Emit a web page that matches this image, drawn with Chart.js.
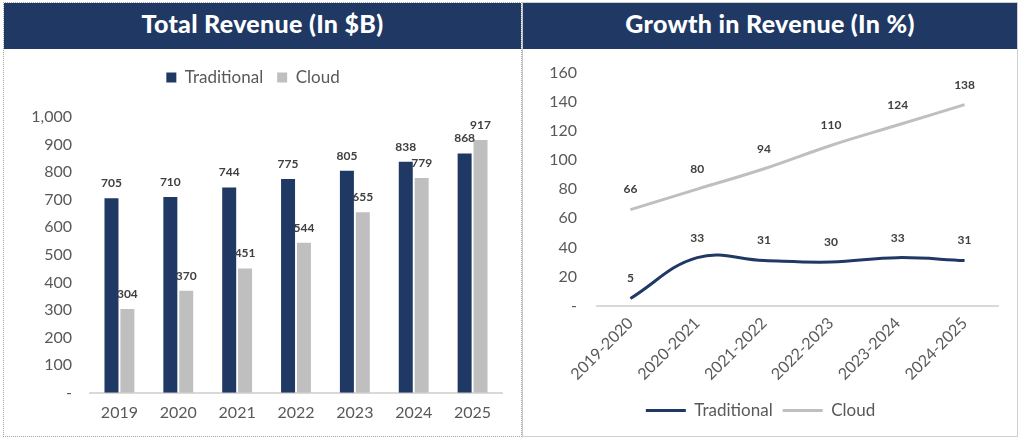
<!DOCTYPE html>
<html>
<head>
<meta charset="utf-8">
<script src="https://cdn.jsdelivr.net/npm/chart.js@4/dist/chart.umd.min.js"></script>
<style>
  html, body { margin: 0; padding: 0; background: #fff; }
  body { width: 1022px; height: 442px; position: relative; overflow: hidden; font-family: 'Lato', 'DejaVu Sans', sans-serif; }
  .panel { position: absolute; top: 2px; height: 435px; box-sizing: border-box; background: #fff; }
  #left { left: 3px; width: 519px; border: 1px dotted #a6a6a6; }
  #right { left: 522px; width: 496px; border: 1px solid #d0d0d0; border-left: 1px solid #c8c8c8; }
  .head { height: 46px; background: #1f3864; color: #fff; font-weight: 900; font-size: 25px;
          text-align: center; line-height: 40px; letter-spacing: 0.3px; }
  .box { position: absolute; left: 0; top: 46px; right: 0; bottom: 0; }
  #right .box { top: 40px; }
</style>
</head>
<body>
<div class="panel" id="left">
  <div class="head">Total Revenue (In $B)</div>
  <div class="box"><canvas id="chart-revenue"></canvas></div>
</div>
<div class="panel" id="right">
  <div class="head">Growth in Revenue (In %)</div>
  <div class="box"><canvas id="chart-growth"></canvas></div>
</div>
<script>
  /* ===== Data ===== */
  const years = ['2019', '2020', '2021', '2022', '2023', '2024', '2025'];
  const revenueTraditional = [705, 710, 744, 775, 805, 838, 868];
  const revenueCloud = [304, 370, 451, 544, 655, 779, 917];

  const periods = ['2019-2020', '2020-2021', '2021-2022', '2022-2023', '2023-2024', '2024-2025'];
  const growthTraditional = [5, 33, 31, 30, 33, 31];
  const growthCloud = [66, 80, 94, 110, 124, 138];

  const navy = '#203864';
  const grey = '#bfbfbf';
  const tickColor = '#595959';
  const fontFamily = "'Lato', 'DejaVu Sans', sans-serif";

  Chart.defaults.font.family = fontFamily;
  Chart.defaults.color = tickColor;
  Chart.defaults.animation = false;

  /* value labels above bars / points */
  const valueLabels = {
    id: 'valueLabels',
    afterDatasetsDraw(chart, args, opts) {
      const ctx = chart.ctx;
      ctx.save();
      ctx.font = 'bold 12px ' + fontFamily;
      ctx.fillStyle = '#404040';
      ctx.textAlign = 'center';
      ctx.textBaseline = 'middle';
      chart.data.datasets.forEach((ds, i) => {
        chart.getDatasetMeta(i).data.forEach((el, j) => {
          ctx.fillText(ds.data[j], el.x, el.y - opts.offset);
        });
      });
      ctx.restore();
    }
  };

  // extra room between legend and plot (legend box has no afterFit option)
  const legendGap = {
    id: 'legendGap',
    beforeInit(chart, args, opts) {
      const fit = chart.legend.fit;
      chart.legend.fit = function () {
        fit.call(this);
        this.height += opts.gap;
      };
    }
  };

  const zeroDash = v => v === 0 ? '-' : v.toLocaleString('en-US');

  /* === Total revenue (bars) === */
  new Chart(document.getElementById('chart-revenue'), {
    type: 'bar',
    data: {
      labels: years,
      datasets: [
        { label: 'Traditional', data: revenueTraditional, backgroundColor: navy, barPercentage: 0.88, categoryPercentage: 0.54 },
        { label: 'Cloud', data: revenueCloud, backgroundColor: grey, barPercentage: 0.88, categoryPercentage: 0.54 }
      ]
    },
    plugins: [legendGap, valueLabels],
    options: {
      responsive: true,
      maintainAspectRatio: false,
      layout: { padding: { top: 6, right: 19, bottom: 4, left: 0 } },
      plugins: {
        legendGap: { gap: 21 },
        valueLabels: { offset: 15 },
        tooltip: { enabled: false },
        legend: {
          position: 'top',
          labels: { boxWidth: 10, boxHeight: 10, padding: 14, font: { size: 17 }, color: tickColor }
        }
      },
      scales: {
        y: {
          min: 0, max: 1000,
          ticks: { stepSize: 100, padding: 18, font: { size: 16 }, callback: zeroDash },
          grid: { display: false, drawTicks: false },
          border: { display: false },
          afterFit: s => { s.width = 86; }
        },
        x: {
          ticks: { padding: 10, font: { size: 16 } },
          grid: { display: false, drawTicks: false },
          border: { display: true, color: '#d9d9d9', width: 2 }
        }
      }
    }
  });

  /* === Growth (lines) === */
  new Chart(document.getElementById('chart-growth'), {
    type: 'line',
    data: {
      labels: periods,
      datasets: [
        { label: 'Traditional', data: growthTraditional, borderColor: navy, backgroundColor: navy, borderWidth: 3,
          tension: 0.4, pointRadius: 0, pointStyle: 'line' },
        { label: 'Cloud', data: growthCloud, borderColor: grey, backgroundColor: grey, borderWidth: 3,
          tension: 0.4, pointRadius: 0, pointStyle: 'line' }
      ]
    },
    plugins: [valueLabels],
    options: {
      responsive: true,
      maintainAspectRatio: false,
      layout: { padding: { top: 12, right: 19, bottom: 7, left: 0 } },
      plugins: {
        valueLabels: { offset: 20 },
        tooltip: { enabled: false },
        legend: {
          position: 'bottom',
          labels: { usePointStyle: true, pointStyleWidth: 40, padding: 10, font: { size: 17 }, color: tickColor }
        }
      },
      scales: {
        y: {
          min: 0, max: 160,
          ticks: { stepSize: 20, padding: 20, font: { size: 16 }, callback: zeroDash },
          grid: { display: false, drawTicks: false },
          border: { display: false },
          afterFit: s => { s.width = 74; }
        },
        x: {
          offset: true,
          ticks: { padding: 8, font: { size: 16 }, minRotation: 45, maxRotation: 45 },
          grid: { display: false, drawTicks: false, offset: true },
          border: { display: true, color: '#d9d9d9', width: 2 }
        }
      }
    }
  });
</script>
</body>
</html>
